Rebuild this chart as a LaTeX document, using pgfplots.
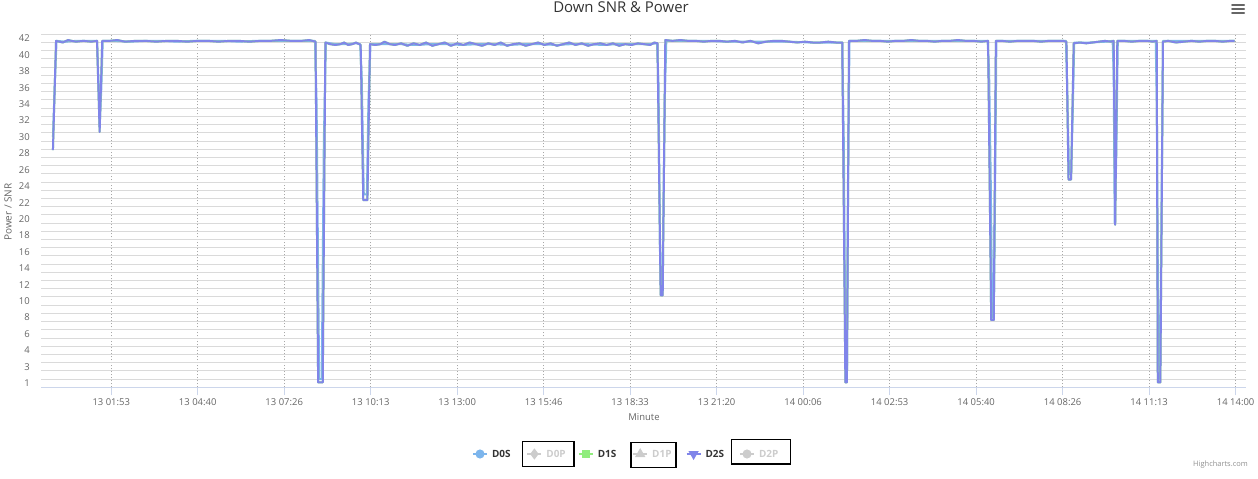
\documentclass[border=0pt]{standalone}
\usepackage{fontspec}
\setmainfont{Open Sans}
\usepackage{pgfplots}
\usepackage{pgfplotstable}
\pgfplotsset{compat=1.18}

\definecolor{dzero}{HTML}{7CB5EC}
\definecolor{done}{HTML}{90ED7D}
\definecolor{dtwo}{HTML}{8085E9}
\definecolor{hidc}{HTML}{CCCCCC}
\definecolor{gridc}{HTML}{DADADA}
\definecolor{xgridc}{HTML}{A8A8A8}
\definecolor{axisc}{HTML}{CCD6EB}
\definecolor{labc}{HTML}{666666}
\definecolor{titlec}{HTML}{333333}

% minutes since 13 00:00 / SNR
\pgfplotstableread{
t v
1 28.9
7 42.2
20 42.0
30 42.3
45 42.1
60 42.2
75 42.1
86 42.2
91 31.1
96 42.2
110 42.2
125 42.3
140 42.1
160 42.2
180 42.2
200 42.1
220 42.2
240 42.2
260 42.1
280 42.2
300 42.2
320 42.1
340 42.2
360 42.2
380 42.1
400 42.2
420 42.2
440 42.3
460 42.2
480 42.2
495 42.3
507 42.1
512 0.6
521 0.6
526 42.0
535 41.8
545 41.7
555 41.8
562 42.0
570 41.7
578 41.8
585 42.0
594 41.7
599 22.8
607 22.8
612 41.8
622 41.7
632 41.8
640 42.1
650 41.8
660 41.7
672 41.9
684 41.6
696 41.9
708 41.7
720 42.0
732 41.6
744 41.8
756 42.0
768 41.6
780 41.9
792 41.7
804 42.0
816 41.8
828 41.6
840 41.9
852 41.7
864 42.0
876 41.6
888 41.8
900 41.9
912 41.6
924 41.8
936 42.0
948 41.7
960 41.9
972 41.6
984 41.8
996 42.0
1008 41.7
1020 41.9
1032 41.6
1044 41.8
1056 41.9
1068 41.7
1080 41.9
1092 41.6
1104 41.8
1116 41.7
1128 41.9
1140 41.8
1152 41.7
1160 42.0
1166 41.9
1172 11.2
1176 11.2
1181 42.3
1195 42.2
1210 42.3
1225 42.2
1240 42.2
1255 42.1
1270 42.2
1285 42.2
1300 42.1
1315 42.2
1330 42.0
1345 42.2
1360 41.9
1375 42.1
1390 42.2
1405 42.2
1420 42.1
1435 42.0
1450 42.1
1465 42.0
1480 42.0
1495 42.1
1510 42.0
1522 42.0
1528 0.6
1531 0.6
1535 42.2
1550 42.2
1565 42.3
1580 42.2
1595 42.2
1610 42.1
1625 42.2
1640 42.2
1655 42.3
1670 42.2
1685 42.2
1700 42.1
1715 42.2
1730 42.2
1745 42.3
1760 42.2
1775 42.2
1790 42.1
1803 42.2
1809 8.2
1814 8.2
1818 42.2
1830 42.2
1845 42.1
1860 42.2
1875 42.2
1890 42.2
1905 42.1
1920 42.2
1935 42.2
1948 42.2
1954 42.1
1958 25.3
1963 25.3
1968 41.9
1980 42.0
1992 41.9
2004 42.0
2016 42.1
2028 42.2
2040 42.1
2045 42.2
2048 19.8
2052 42.2
2065 42.2
2080 42.1
2095 42.2
2110 42.2
2120 42.1
2128 42.2
2130 0.6
2135 0.6
2140 42.1
2150 42.2
2165 42.0
2180 42.1
2195 42.2
2210 42.1
2225 42.2
2240 42.2
2255 42.1
2270 42.2
2278 42.2
}\dtwotab

\pgfplotstableread{
t v
1 30.5
4 36
8 42.2
25 42.1
45 42.2
65 42.2
86 42.2
89 37
91 32
94 36
97 42.2
120 42.2
150 42.1
180 42.2
210 42.2
240 42.1
270 42.2
300 42.2
330 42.2
360 42.1
390 42.2
420 42.2
450 42.2
480 42.2
506 42.2
509 35
514 1.0
519 1.0
523 30
527 42.0
545 41.8
565 41.8
585 41.9
593 41.8
596 38
600 23.5
606 23.5
609 35
613 41.8
640 41.8
670 41.8
700 41.7
730 41.8
760 41.8
790 41.7
820 41.8
850 41.8
880 41.7
910 41.8
940 41.8
970 41.7
1000 41.8
1030 41.8
1060 41.7
1090 41.8
1120 41.8
1150 41.8
1165 41.9
1168 37
1171 15
1175 11.5
1178 25
1180 35
1183 42.2
1220 42.2
1260 42.2
1300 42.1
1340 42.1
1380 42.1
1420 42.1
1460 42.0
1500 42.0
1522 42.0
1525 30
1528 5
1531 1
1533 25
1536 42.2
1580 42.2
1620 42.2
1660 42.2
1700 42.2
1740 42.2
1780 42.2
1802 42.2
1805 38.5
1808 26
1811 8.5
1814 9
1816 20
1819 42.2
1860 42.2
1900 42.2
1953 42.2
1956 35
1959 26
1963 26
1966 33
1969 42.0
2000 42.0
2030 42.1
2043 42.2
2045 38
2047 20
2050 28
2053 42.2
2090 42.2
2126 42.2
2128 35
2131 5
2134 1
2137 20
2140 42.2
2180 42.2
2220 42.2
2278 42.2
}\dzerotab

\begin{document}
\begin{tikzpicture}
\begin{axis}[
    scale only axis,
    width=1205bp, height=353bp,
    xmin=-22, xmax=2300,
    ymin=0, ymax=43,
    axis x line*=bottom,
    axis y line*=left,
    x axis line style={-, draw=axisc, line width=1bp},
    y axis line style={draw=none},
    xtick={113.333,280,446.667,613.333,780,946.667,1113.333,1280,1446.667,1613.333,1780,1946.667,2113.333,2280},
    xticklabels={13 01:53,13 04:40,13 07:26,13 10:13,13 13:00,13 15:46,13 18:33,13 21:20,14 00:06,14 02:53,14 05:40,14 08:26,14 11:13,14 14:00},
    ytick={0.5,2.5,4.5,6.5,8.5,10.5,12.5,14.5,16.5,18.5,20.5,22.5,24.5,26.5,28.5,30.5,32.5,34.5,36.5,38.5,40.5,42.5},
    yticklabels={1,3,4,6,8,10,12,14,16,18,20,22,24,26,28,30,32,34,36,38,40,42},
    minor ytick={0,1,...,43},
    yminorgrids=true,
    xmajorgrids=true,
    ymajorgrids=false,
    minor y grid style={draw=gridc, line width=1bp},
    major x grid style={draw=xgridc, line width=1bp, dash pattern=on 1bp off 2bp},
    y tick style={draw=none},
    x tick style={draw=axisc, line width=1bp},
    tick align=outside,
    major tick length=8bp,
    minor tick length=0pt,
    /pgf/number format/assume math mode=true,
    xticklabel style={font=\fontsize{9.5}{11}\selectfont, text=labc},
    yticklabel style={font=\fontsize{9.5}{11}\selectfont, text=labc, anchor=east, inner sep=0pt, xshift=-3bp},
    legend columns=6,
    legend cell align=left,
    legend image code/.code={
        \draw[#1, mark repeat=2, mark phase=2] plot coordinates {(0bp,0bp) (7bp,0bp) (14bp,0bp)};
    },
    legend style={
        at={(axis description cs:0.35768,-0.18895)}, anchor=west,
        draw=none, fill=none, inner sep=0pt, outer sep=0pt,
        nodes={inner sep=0pt, text depth=0pt, font=\fontsize{10}{12}\selectfont\bfseries, text=titlec},
        /tikz/every odd column/.append style={column sep=4bp},
        /tikz/every even column/.append style={column sep=11.4bp},
    },
]
\addplot[forget plot, dzero, line width=2bp, line join=round] table[x=t, y=v] {\dzerotab};
\addplot[forget plot, done, line width=2bp, line join=round] table[x=t, y=v] {\dtwotab};
\addplot[forget plot, dtwo, line width=2bp, line join=round] table[x=t, y=v] {\dtwotab};

\addlegendimage{dzero, line width=2bp, mark=*, mark size=3.5bp, mark options={fill=dzero, draw=none}}
\addlegendentry{\makebox[23bp][l]{D0S}}
\addlegendimage{hidc, line width=2bp, mark=diamond*, mark size=4bp, mark options={fill=hidc, draw=none}}
\addlegendentry{\makebox[20bp][l]{\textcolor{hidc}{D0P}}}
\addlegendimage{done, line width=2bp, mark=square*, mark size=3.2bp, mark options={fill=done, draw=none}}
\addlegendentry{\makebox[23bp][l]{D1S}}
\addlegendimage{hidc, line width=2bp, mark=triangle*, mark size=4bp, mark options={fill=hidc, draw=none}}
\addlegendentry{\makebox[22bp][l]{\textcolor{hidc}{D1P}}}
\addlegendimage{dtwo, line width=2bp, mark=triangle*, mark size=4bp, mark options={fill=dtwo, draw=none, rotate=180}}
\addlegendentry{\makebox[22bp][l]{D2S}}
\addlegendimage{hidc, line width=2bp, mark=*, mark size=3.5bp, mark options={fill=hidc, draw=none}}
\addlegendentry{\makebox[20bp][l]{\textcolor{hidc}{D2P}}}
\end{axis}

\node[font=\fontsize{15}{18}\selectfont, text=titlec] at (580bp,380.3bp) {Down SNR \& Power};
\node[font=\fontsize{10}{12}\selectfont, text=labc, rotate=90] at (-33bp,175.3bp) {Power / SNR};
\node[font=\fontsize{9.5}{11}\selectfont, text=labc] at (603bp,-29.7bp) {Minute};
\node[font=\fontsize{7.5}{9}\selectfont, text=hidc!70!black, anchor=east, inner sep=0pt] at (1207bp,-77.7bp) {Highcharts.com};
\draw[labc, line width=2bp, line cap=round] (1191bp,382.3bp) -- (1203bp,382.3bp);
\draw[labc, line width=2bp, line cap=round] (1191bp,378.3bp) -- (1203bp,378.3bp);
\draw[labc, line width=2bp, line cap=round] (1191bp,374.3bp) -- (1203bp,374.3bp);
\draw[black, line width=1.5bp] (481.7bp,-79.4bp) rectangle (533bp,-54.4bp);
\draw[black, line width=1.5bp] (590bp,-80bp) rectangle (635bp,-55.4bp);
\draw[black, line width=1.5bp] (690.7bp,-76.7bp) rectangle (749.7bp,-52bp);

\pgfresetboundingbox
\path[use as bounding box] (-41bp,-91.7bp) rectangle (1217bp,387.3bp);
\end{tikzpicture}
\end{document}
